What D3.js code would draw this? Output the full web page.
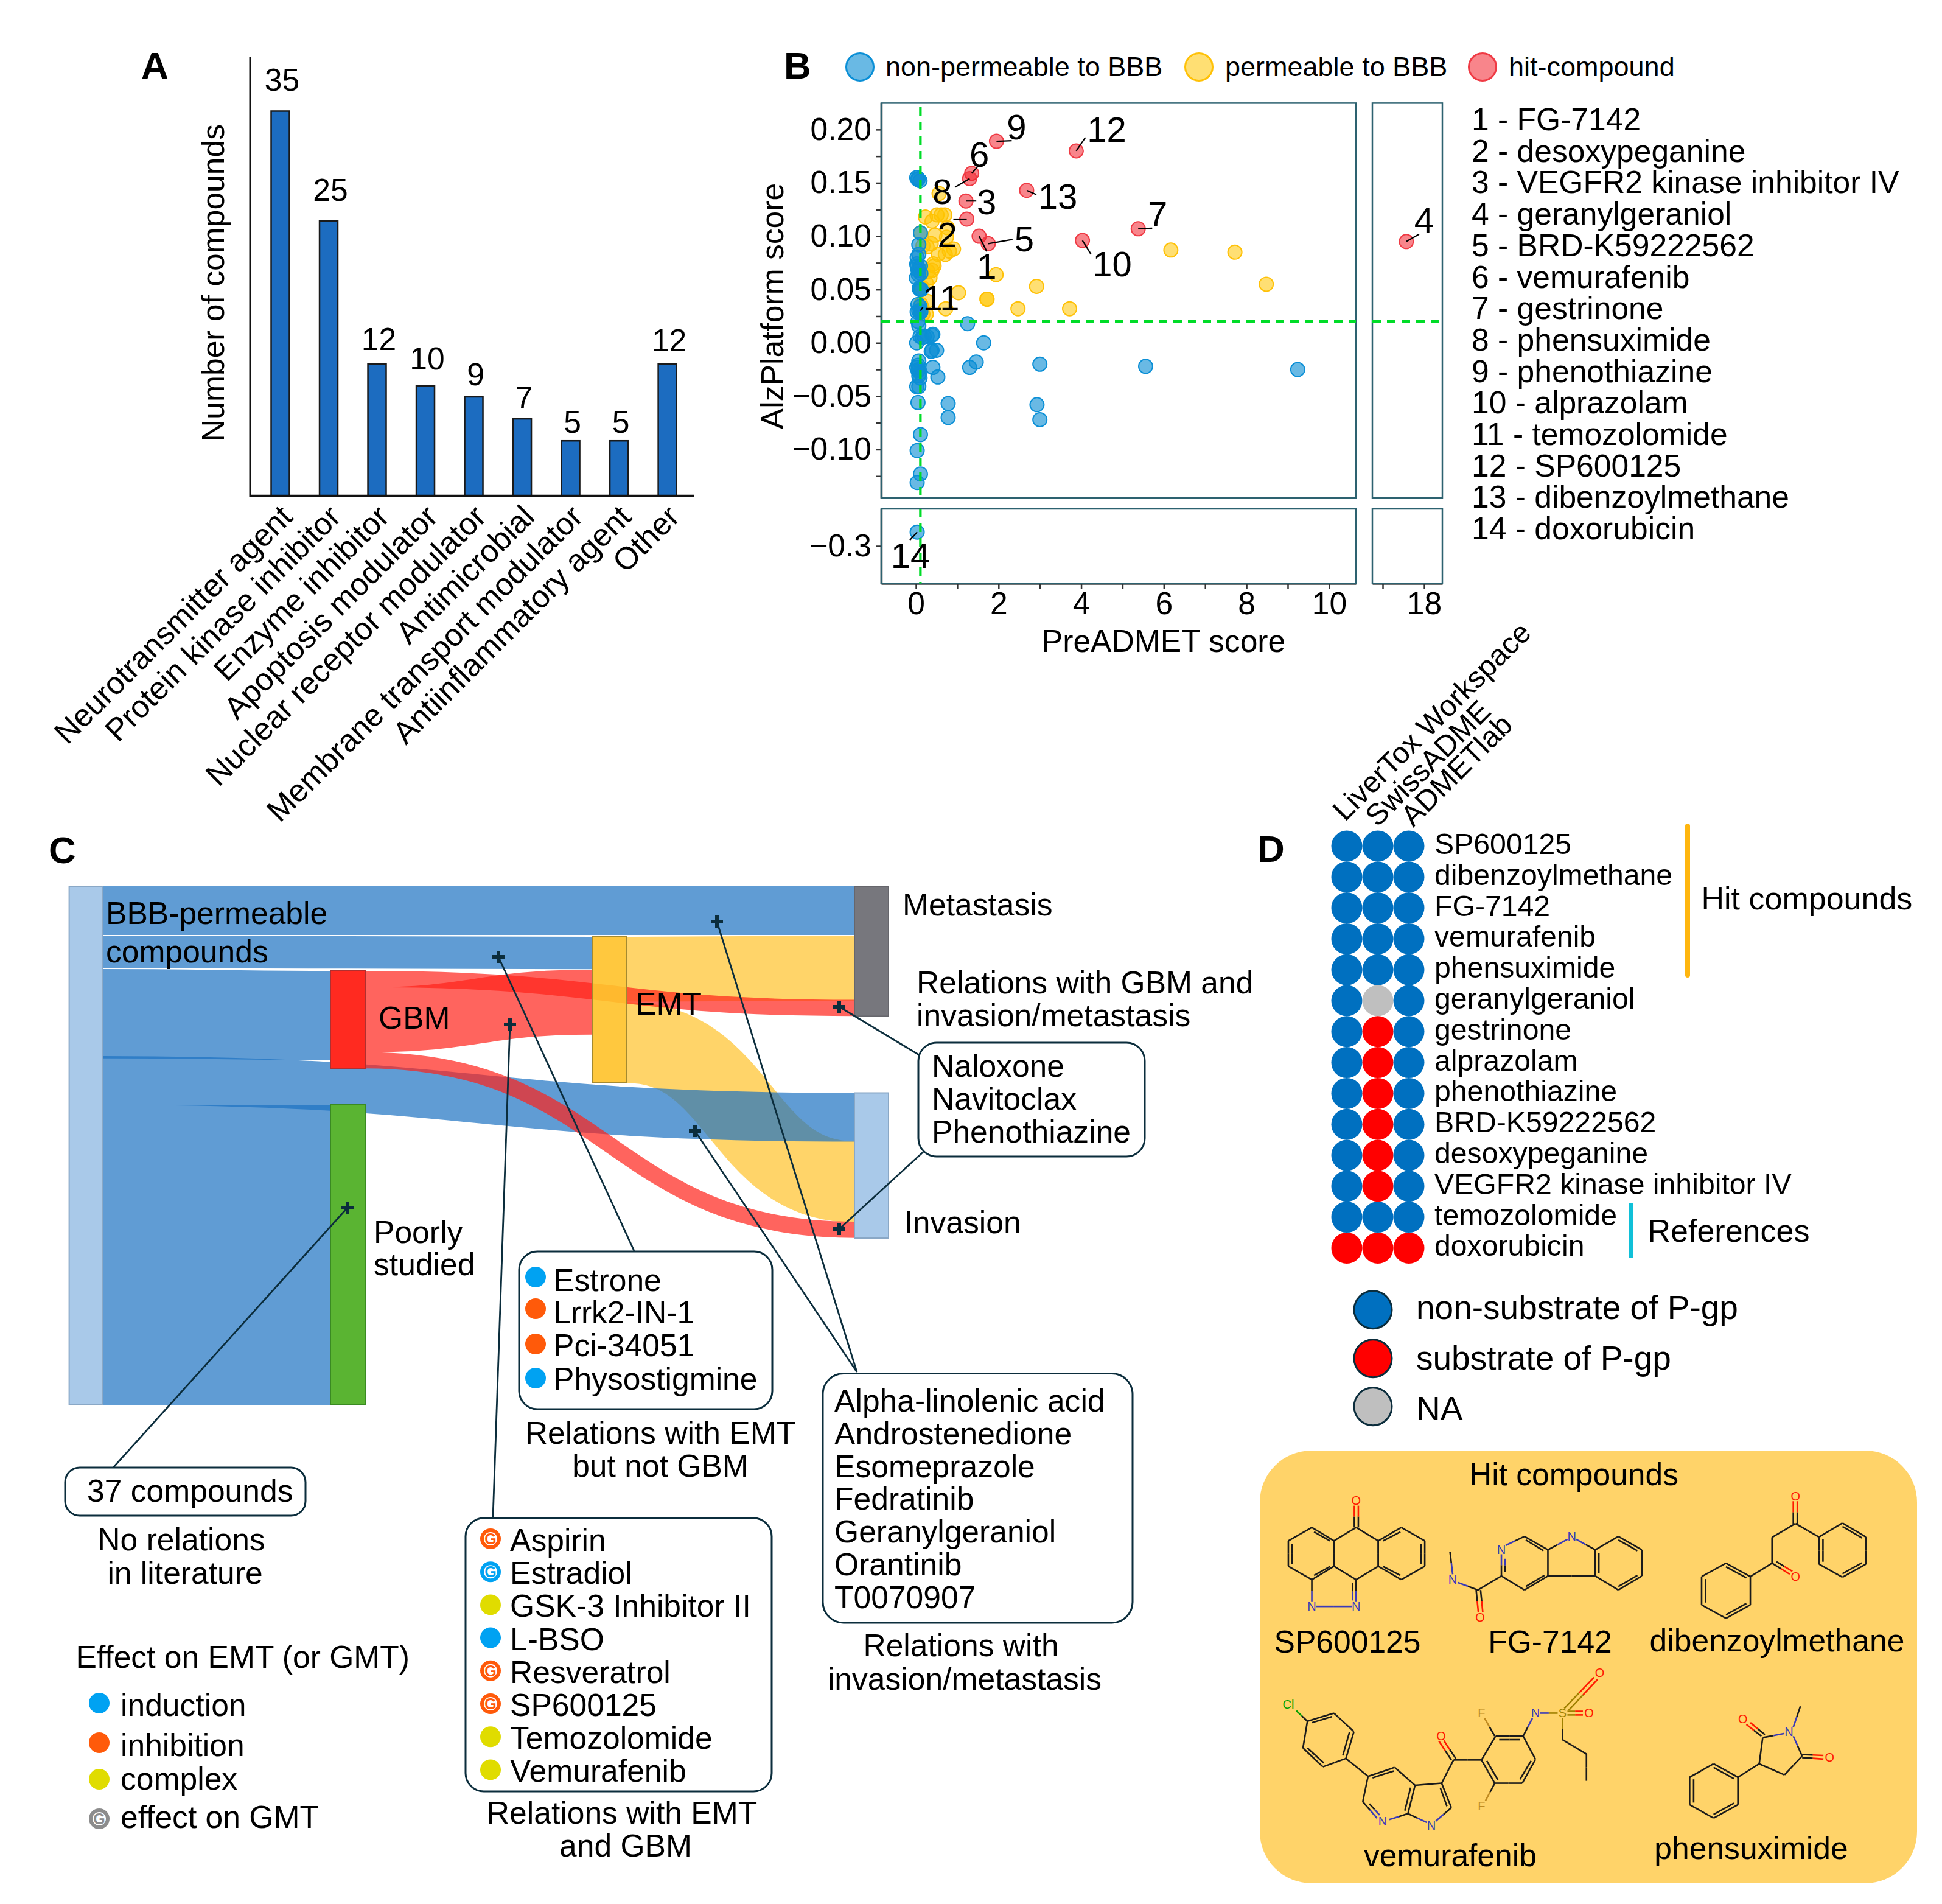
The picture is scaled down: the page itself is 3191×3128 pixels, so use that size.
<!DOCTYPE html>
<html><head><meta charset="utf-8">
<script src="https://cdn.jsdelivr.net/npm/d3@7"></script>
<style>html,body{margin:0;padding:0;background:#fff}svg{display:block}text{font-family:"Liberation Sans",Arial,sans-serif;fill:#000}</style>
</head><body><svg id="c" width="3191" height="3128" viewBox="0 0 3191 3128"></svg>
<script>
// ---------- Panel A data
const categories=["Neurotransmitter agent","Protein kinase inhibitor","Enzyme inhibitor","Apoptosis modulator","Nuclear receptor modulator","Antimicrobial","Membrane transport modulator","Antiinflammatory agent","Other"];
const compoundCounts=[35,25,12,10,9,7,5,5,12];
// ---------- Panel B data
const nonPermeable=[[.05,.154],[.02,.155],[.10,.152],[.05,.153],[.11,.103],[.07,.092],[.03,.080],[.07,.083],[.02,.074],[.03,.072],[.07,.070],[.11,.072],[.05,.068],[.06,.064],[.01,.061],[.12,.065],[.10,.050],[.08,.051],[.13,.050],[.05,.036],[.10,.034],[.03,.029],[.12,.029],[.07,.030],[.11,.030],[.05,.020],[.07,.016],[.02,0],[.10,.006],[.20,.006],[.27,.006],[.39,.007],[.41,.008],[.15,.005],[.50,-.007],[.37,-.008],[.39,-.007],[1.64,0],[1.25,.018],[1.46,-.018],[1.30,-.023],[.41,-.023],[.53,-.032],[.07,-.017],[.05,-.021],[.02,-.023],[.07,-.025],[.05,-.026],[.10,-.028],[.07,-.031],[.02,-.041],[.07,-.041],[.10,-.033],[.05,-.056],[.78,-.057],[.78,-.070],[2.93,-.058],[3.0,-.072],[3.0,-.020],[5.56,-.022],[9.24,-.025],[.11,-.086],[.03,-.101],[.11,-.123],[.03,-.131]];
const nonPermeableLow=[[.03,-.287]];
const permeable=[[.56,.140],[.23,.118],[.39,.114],[.51,.120],[.70,.120],[.61,.120],[.76,.108],[.46,.101],[.74,.099],[.11,.103],[.37,.093],[.17,.091],[.27,.090],[.91,.088],[.71,.083],[.54,.083],[.81,.086],[.44,.072],[.42,.074],[.39,.068],[.29,.067],[.34,.061],[.25,.056],[.15,.052],[.12,.050],[1.94,.064],[1.03,.047],[1.72,.041],[1.72,.041],[.72,.032],[2.47,.032],[2.92,.053],[3.72,.032],[6.17,.087],[7.72,.085],[8.48,.055],[.27,.039],[.12,.036],[.25,.027],[.15,.033],[.17,.027],[.11,.030]];
const hitIds=[1,2,3,5,6,7,8,9,10,12,13];
const hitX=[1.53,1.23,1.21,1.75,1.35,5.38,1.30,1.95,4.03,3.88,2.68];
const hitY=[.100,.116,.133,.093,.159,.107,.154,.189,.096,.180,.143];
const hitRight=[[4,17.57,.095]];
const reference11=[.11,.030];
const compoundIndex=["FG-7142","desoxypeganine","VEGFR2 kinase inhibitor IV","geranylgeraniol","BRD-K59222562","vemurafenib","gestrinone","phensuximide","phenothiazine","alprazolam","temozolomide","SP600125","dibenzoylmethane","doxorubicin"];
// ---------- Panel C data
const flowSource=["BBB","BBB","BBB","BBB","BBB","GBM","GBM","GBM","EMT","EMT"];
const flowTarget=["Metastasis","EMT","GBM","Invasion","Poorly","EMT","Metastasis","Invasion","Metastasis","Invasion"];
const flowValue=[6,4,11,6,37,8,2,2,8,10];
const effectLegend=[["induction","i"],["inhibition","h"],["complex","c"],["effect on GMT","g"]];
const emtOnly=[["Estrone","i"],["Lrrk2-IN-1","h"],["Pci-34051","h"],["Physostigmine","i"]];
const emtGbm=[["Aspirin","gh"],["Estradiol","gi"],["GSK-3 Inhibitor II","c"],["L-BSO","i"],["Resveratrol","gh"],["SP600125","gh"],["Temozolomide","c"],["Vemurafenib","c"]];
const gbmInvasion=["Naloxone","Navitoclax","Phenothiazine"];
const invasionOnly=["Alpha-linolenic acid","Androstenedione","Esomeprazole","Fedratinib","Geranylgeraniol","Orantinib","T0070907"];
// ---------- Panel D data
const tools=["LiverTox Workspace","SwissADME","ADMETlab"];
const dCompounds=["SP600125","dibenzoylmethane","FG-7142","vemurafenib","phensuximide","geranylgeraniol","gestrinone","alprazolam","phenothiazine","BRD-K59222562","desoxypeganine","VEGFR2 kinase inhibitor IV","temozolomide","doxorubicin"];
const liverTox=["n","n","n","n","n","n","n","n","n","n","n","n","n","s"];
const swissAdme=["n","n","n","n","n","x","s","s","s","s","s","s","n","s"];
const admetLab=["n","n","n","n","n","n","n","n","n","n","n","n","n","s"];

const FS=51.6;
const svg=d3.select("#c");
svg.append("rect").attr("width",3191).attr("height",3128).attr("fill","#fff");
function T(g,s,x,y,size,opt={}){const t=g.append("text").attr("x",x).attr("y",y).attr("font-size",size).text(s);
 if(opt.a)t.attr("text-anchor",opt.a);if(opt.b)t.attr("font-weight","bold");if(opt.r!=null)t.attr("transform",`rotate(${opt.r} ${x} ${y})`);if(opt.c)t.style("fill",opt.c);return t;}
// panel letters
[["A",232,129],["B",1288,129],["C",80,1418],["D",2066,1416]].forEach(d=>T(svg,d[0],d[1],d[2],62,{b:1}));

// ===== A
(function(){const g=svg.append("g");
 const x=d3.scaleBand().domain(categories).range([420.75,1136.35]).paddingInner(.623).paddingOuter(.3115);
 const y=d3.scaleLinear().domain([0,39.9]).range([814.5,94]);
 const labelGap=[33,33,23,27,19,17,13,13,21];
 g.selectAll("rect.b").data(compoundCounts).join("rect").attr("x",(d,i)=>x(categories[i])).attr("width",x.bandwidth()).attr("y",d=>y(d)).attr("height",d=>y(0)-y(d)).attr("fill","#1c6cc0").attr("stroke","#1a1a1a").attr("stroke-width",2.5);
 g.append("path").attr("d",`M${x.range()[0]-9.5},${y(39.9)}V${y(0)}H1140`).attr("fill","none").attr("stroke","#111").attr("stroke-width",3.5);
 compoundCounts.forEach((d,i)=>T(g,d,x(categories[i])+x.bandwidth()/2+3,y(d)-labelGap[i],FS,{a:"middle"}));
 categories.forEach((c,i)=>T(g,c,x(c)+x.bandwidth()/2+23,852,FS,{a:"end",r:-45}));
 T(g,"Number of compounds",368,465,FS,{a:"middle",r:-90});
})();

// ===== B
(function(){const g=svg.append("g");
 const xL=d3.scaleLinear().domain([-.84,10.65]).range([1448,2228]);
 const xR=d3.scaleLinear().domain([16.75,18.44]).range([2255,2370]);
 const yT=d3.scaleLinear().domain([-.1454,.2248]).range([818,169.4]);
 const yB=d3.scaleLinear().domain([-.3351,-.2652]).range([958.5,836]);
 const frame=(a,b,c,d)=>g.append("rect").attr("x",a).attr("y",c).attr("width",b-a).attr("height",d-c).attr("fill","none").attr("stroke","#2d6270").attr("stroke-width",2.5);
 const axisStyle=s=>{s.selectAll("text").attr("font-size",FS).style("font-family",'"Liberation Sans"');s.selectAll("line").attr("stroke","#333").attr("stroke-width",2.5);s.select(".domain").attr("stroke","#444").attr("stroke-width",3.5);};
 const lt=d3.range(-.125,.2001,.025).map(v=>+v.toFixed(3));
 g.append("g").attr("transform","translate(1448,0)").call(d3.axisLeft(yT).tickValues(lt).tickSize(9).tickPadding(7).tickSizeOuter(0).tickFormat(v=>Math.abs(Math.round(v*1000))%50===0?d3.format(".2f")(v):"")).call(axisStyle);
 g.append("g").attr("transform","translate(1448,0)").call(d3.axisLeft(yB).tickValues([-.3]).tickSize(9).tickPadding(7).tickSizeOuter(0).tickFormat(d3.format(".1f"))).call(axisStyle);
 g.append("g").attr("transform","translate(0,958.5)").call(d3.axisBottom(xL).tickValues(d3.range(0,11)).tickSize(9).tickPadding(5).tickSizeOuter(0).tickFormat(v=>v%2===0?v:"")).call(axisStyle);
 g.append("g").attr("transform","translate(0,958.5)").call(d3.axisBottom(xR).tickValues([17,18]).tickSize(9).tickPadding(5).tickSizeOuter(0).tickFormat(v=>v===18?v:"")).call(axisStyle);
 frame(1448,2228,169.4,818);frame(1448,2228,836,958.5);frame(2255,2370,169.4,818);frame(2255,2370,836,958.5);
 g.selectAll(".tick text").style("fill","#000");
 T(g,"PreADMET score",1912,1071,FS,{a:"middle"});
 T(g,"AlzPlatform score",1287,503,FS,{a:"middle",r:-90});
 const style={b:["#0d8ed4","#0b8fd6",.62],y:["#ffc400","#ffc107",.55],r:["#f3202c","#ef3a44",.55]};
 const dot=(pts,xs,ys,k)=>g.append("g").selectAll("circle").data(pts).join("circle").attr("cx",d=>xs(d[0])).attr("cy",d=>ys(d[1])).attr("r",11.5).attr("fill",style[k][0]).attr("fill-opacity",style[k][2]).attr("stroke",style[k][1]).attr("stroke-width",2);
 dot(permeable,xL,yT,"y");dot(nonPermeable,xL,yT,"b");dot(nonPermeableLow,xL,yB,"b");
 const hits=hitIds.map((id,i)=>[hitX[i],hitY[i],id]);
 dot(hits,xL,yT,"r");dot(hitRight.map(d=>[d[1],d[2]]),xR,yT,"r");
 // reference lines
 const grn=(a,b,c,d)=>g.append("line").attr("x1",a).attr("x2",b).attr("y1",c).attr("y2",d).attr("stroke","#00dc28").attr("stroke-width",4.2).attr("stroke-dasharray","14 10");
 grn(1448,2228,yT(.02),yT(.02));grn(2255,2370,yT(.02),yT(.02));grn(xL(.108),xL(.108),176,818);grn(xL(.108),xL(.108),836,958.5);
 // annotation offsets: id -> [label dx, baseline dy, leader dx, leader dy]
 const notes={1:[12.5,68,12.5,25],2:[-32,44,-22,0],3:[34,20,17,0],5:[59,11,40,-7],6:[12.5,-13,9,-10],7:[32,-6,23,-1],8:[-45,40,-24,14],9:[33,-5,25,-1],10:[49,57,14,22.5],11:[34,-3,4,-6],12:[50,-17,15,-22],13:[51,28,16,7],4:[29,-17,21,-12],14:[-11,57,-12,13]};
 const note=(id,px,py)=>{const n=notes[id];g.append("line").attr("x1",px).attr("y1",py).attr("x2",px+n[2]).attr("y2",py+n[3]).attr("stroke","#000").attr("stroke-width",2.2);T(g,id,px+n[0],py+n[1]+2,58,{a:"middle"});};
 hits.forEach(d=>note(d[2],xL(d[0]),yT(d[1])));
 note(11,xL(reference11[0]),yT(reference11[1]));
 note(4,xR(17.57),yT(.095));note(14,xL(.03),yB(-.287));
 // legend
 [[1413,"non-permeable to BBB","b",1455],[1970,"permeable to BBB","y",2013],[2436,"hit-compound","r",2479]].forEach(l=>{
  g.append("circle").attr("cx",l[0]).attr("cy",110).attr("r",22.5).attr("fill",style[l[2]][0]).attr("fill-opacity",style[l[2]][2]).attr("stroke",style[l[2]][1]).attr("stroke-width",3);
  T(g,l[1],l[3],125,45);});
 compoundIndex.forEach((c,i)=>T(g,(i+1)+" - "+c,2418,214+i*51.7,FS));
})();

// ===== C
(function(){const g=svg.append("g");
 const nodes={BBB:[113.6,169,1456,2307,"#a9c9e9","#8aa8c6",1],GBM:[543,600,1595,1756,"#ff2a20","#b03030",1],Poorly:[543,600,1815,2307,"#5ab432","#3a8a22",1],EMT:[973,1030,1539,1779,"#ffc229","#a58a30",.9],Metastasis:[1404,1460,1456,1669.5,"#77777d","#66666c",1],Invasion:[1404,1460,1795.5,2034,"#a9c9e9","#8aa8c6",1]};
 const u=d3.scaleLinear().domain([0,1]).range([0,13.33]);
 // top edge of each band at its source and at its target
 const layout=[[1456,1456],[1537,1539],[1592,1595],[1735,1795.5],[1815,1815],[1622,1593],[1595,1642.5],[1728.5,2007],[1539,1537],[1646,1875]];
 const col={BBB:"#1d72c2",GBM:"#ff221a",EMT:"#ffc229"};
 const lk=d3.linkHorizontal().x(d=>d.x).y(d=>d.y);
 const flows=flowValue.map((v,i)=>({v,s:flowSource[i],t:flowTarget[i],sy:layout[i][0],ty:layout[i][1]}));
 ["EMT","BBB","GBM"].forEach(src=>{
  g.append("g").selectAll("path").data(flows.filter(f=>f.s===src)).join("path").attr("fill","none").attr("stroke",col[src]).attr("stroke-opacity",.7).attr("stroke-width",d=>u(d.v))
   .attr("d",d=>lk({source:{x:nodes[d.s][1],y:d.sy+u(d.v)/2},target:{x:nodes[d.t][0],y:d.ty+u(d.v)/2}}));
 });
 Object.values(nodes).forEach(n=>g.append("rect").attr("x",n[0]).attr("y",n[2]).attr("width",n[1]-n[0]).attr("height",n[3]-n[2]).attr("fill",n[4]).attr("fill-opacity",n[6]).attr("stroke",n[5]).attr("stroke-width",2));
 const dark="#0b2d3c";
 const leaders=[[186,2411,571,1984],[1042,2055,819,1572],[810,2493,838,1683],[1510,1733,1379,1654],[1517,1892.5,1379,2019],[1408,2254,1178,1514],[1408,2254,1142,1858]];
 leaders.forEach(l=>g.append("line").attr("x1",l[0]).attr("y1",l[1]).attr("x2",l[2]).attr("y2",l[3]).attr("stroke",dark).attr("stroke-width",2.8));
 leaders.forEach(l=>g.append("path").attr("d",`M${l[2]-10},${l[3]}H${l[2]+10}M${l[2]},${l[3]-10}V${l[3]+10}`).attr("stroke",dark).attr("stroke-width",6).attr("fill","none"));
 const box=(a,b,c,d,r=30)=>g.append("rect").attr("x",a).attr("y",c).attr("width",b-a).attr("height",d-c).attr("rx",r).attr("fill","#fff").attr("stroke",dark).attr("stroke-width",3);
 box(107,502,2411,2490,24);box(853,1269,2056,2315);box(765,1268,2494,2943);box(1509,1881,1713,1900);box(1352,1861,2256.5,2666,34);
 const effect={i:"#00a2f2",h:"#ff5a0a",c:"#e0dc00"};
 const marker=(k,cx,cy)=>{
  if(k[0]==="g"){const c=k==="g"?"#8c8c8c":effect[k[1]];
   g.append("circle").attr("cx",cx).attr("cy",cy).attr("r",14).attr("fill","#fff").attr("stroke",c).attr("stroke-width",6);
   T(g,"G",cx,cy+9,25,{a:"middle",b:1,c});}
  else g.append("circle").attr("cx",cx).attr("cy",cy).attr("r",17).attr("fill",effect[k]);};
 // labels
 T(g,"BBB-permeable",174,1518,FS);T(g,"compounds",174,1581,FS);
 T(g,"GBM",622,1690,FS);T(g,"EMT",1044,1667,FS);T(g,"Metastasis",1483,1503.6,FS);T(g,"Invasion",1485.5,2026,FS);
 T(g,"Poorly",614,2042,FS);T(g,"studied",614,2095,FS);
 T(g,"Relations with GBM and",1506,1632,FS);T(g,"invasion/metastasis",1506,1686,FS);
 T(g,"37 compounds",143,2466.5,FS);
 T(g,"No relations",298,2547,FS,{a:"middle"});T(g,"in literature",304,2602,FS,{a:"middle"});
 T(g,"Relations with EMT",1085,2372,FS,{a:"middle"});T(g,"but not GBM",1085,2426,FS,{a:"middle"});
 T(g,"Relations with EMT",1022,2996,FS,{a:"middle"});T(g,"and GBM",1028,3050,FS,{a:"middle"});
 T(g,"Relations with",1579,2721,FS,{a:"middle"});T(g,"invasion/metastasis",1585,2776,FS,{a:"middle"});
 const y1=[2098,2150,2208,2264],b1=[2121,2174,2227.5,2283];
 emtOnly.forEach((d,i)=>{marker(d[1],880,y1[i]);T(g,d[0],909,b1[i],FS);});
 emtGbm.forEach((d,i)=>{marker(d[1],806,2528+i*54.2);T(g,d[0],838,2548+i*54.2,FS);});
 gbmInvasion.forEach((d,i)=>T(g,d,1531,1769+i*54,FS));
 invasionOnly.forEach((d,i)=>T(g,d,1371,2319+i*53.8,FS));
 T(g,"Effect on EMT (or GMT)",124.5,2740,FS);
 const ly=[2798,2863,2923,2988],lb=[2819,2885,2940,3003];
 effectLegend.forEach((d,i)=>{marker(d[1],163,ly[i]);T(g,d[0],198,lb[i],FS);});
})();

// ===== D
(function(){const g=svg.append("g");
 const x=d3.scalePoint().domain(tools).range([2213,2315]);
 const y=d3.scalePoint().domain(dCompounds).range([1390,2050.4]);
 const fill={n:"#0070c0",s:"#ff0000",x:"#bfbfbf"};
 [liverTox,swissAdme,admetLab].forEach((col,j)=>g.append("g").selectAll("circle").data(col).join("circle").attr("cx",x(tools[j])).attr("cy",(d,i)=>y(dCompounds[i])).attr("r",25.5).attr("fill",d=>fill[d]));
 dCompounds.forEach(c=>T(g,c,2357,y(c)+13,48.2));
 [[2210,1351],[2263.5,1360],[2322,1360]].forEach((p,i)=>T(g,tools[i],p[0],p[1],48.6,{r:-45}));
 const bar=(px,a,b,c)=>g.append("rect").attr("x",px-4).attr("y",a).attr("width",8).attr("height",b-a).attr("rx",4).attr("fill",c);
 bar(2773,1353,1606,"#ffb60f");bar(2680,1976,2067,"#10c0d8");
 T(g,"Hit compounds",2795.5,1494,52);T(g,"References",2707.5,2040,52);
 [["non-substrate of P-gp","n",2151.7,2166.7],["substrate of P-gp","s",2231.7,2250],["NA","x",2310.7,2333]].forEach(l=>{
  g.append("circle").attr("cx",2256).attr("cy",l[2]).attr("r",31).attr("fill",fill[l[1]]).attr("stroke","#0b2d3c").attr("stroke-width",3);
  T(g,l[0],2327,l[3],55);});
 // hit compounds card
 g.append("rect").attr("x",2070).attr("y",2383).attr("width",1080).attr("height",711).attr("rx",85).attr("fill","#ffd369");
 T(g,"Hit compounds",2586,2440,FS,{a:"middle"});
 [["SP600125",2214,2715],["FG-7142",2547,2715],["dibenzoylmethane",2920,2713],["vemurafenib",2383,3066],["phensuximide",2877.5,3054]].forEach(d=>T(g,d[0],d[1],d[2],FS,{a:"middle"}));
 const mx=d3.scaleLinear().domain([0,1141*1.374]).range([2050,3191]);
 const my=d3.scaleLinear().domain([0,768*2.042]).range([2360,3128]);
 const K="#1a1a1a",R="#ff1a00",B="#3a3ab8",O="#a08000",F="#c08a20",G="#00a000";
 const ring=p=>p.map((a,i)=>[a[0],a[1],p[(i+1)%p.length][0],p[(i+1)%p.length][1]]);
 const bonds=[
  // SP600125
  ...ring([[145,305],[195,350],[195,435],[145,480],[92,435],[92,350]]),...ring([[245,305],[295,350],[295,435],[245,480],[195,435],[195,350]]),...ring([[347,305],[400,350],[400,435],[347,480],[295,435],[295,350]]),
  [100,360,100,428],[150,320,186,350],[150,466,186,436],[392,360,392,428],[345,320,306,350],[345,466,306,436],
  [241,305,241,232,K,R],[250,305,250,232,K,R],[145,480,145,555,K,B],[245,480,245,555,K,B],[237,490,237,550,K,B],[155,570,235,570,B,B],
  // FG-7142
  [583,365,625,335,B,K],[625,335,678,380],[678,380,678,468],[678,468,625,515],[625,515,573,468],[573,468,573,395,K,B],[581,410,581,455,B,K],[628,347,668,383],[628,503,670,466],
  [678,380,722,345,K,B],[742,345,785,380,B,K],[785,380,785,468],[785,468,678,468],
  ...ring([[785,380],[837,335],[890,380],[890,468],[837,515],[785,468]]),[793,390,793,458],[837,347,880,383],[837,503,880,466],
  [573,468,520,515],[516,515,521,590,K,R],[526,515,531,590,K,R],[520,515,475,490,K,B],[463,462,457,387,B,K],
  // dibenzoylmethane
  [1232,217,1232,292,R,K],[1241,217,1241,292,R,K],[1237,292,1184,338],[1184,338,1184,425],[1184,425,1135,470],[1184,425,1224,462,K,R],[1194,420,1230,452,K,R],[1237,292,1290,337],
  ...ring([[1290,337],[1343,290],[1396,337],[1396,428],[1343,472],[1290,428]]),[1299,345,1299,420],[1343,302,1387,340],[1343,460,1387,424],
  ...ring([[1135,470],[1080,425],[1025,470],[1025,565],[1080,610],[1135,565]]),[1034,478,1034,557],[1080,437,1126,474],[1080,598,1126,560],
  // vemurafenib
  [110,920,135,955,G,K],...ring([[135,955],[195,928],[240,990],[222,1080],[170,1108],[125,1045]]),[145,960,190,940],[230,992,215,1070],[135,1045,172,1095],
  [222,1080,272,1140],[272,1140,332,1110],[332,1110,378,1170],[378,1170,362,1265],[362,1265,320,1285,K,B],[292,1280,260,1225,B,K],[260,1225,272,1140],[282,1145,330,1122],[368,1178,355,1255],[275,1232,298,1270,K,B],
  [378,1170,438,1163],[438,1163,460,1245],[460,1245,425,1290,K,B],[405,1295,362,1265,B,K],[435,1178,450,1240],
  [438,1163,465,1085],[465,1085,528,1085],[460,1085,432,1022,K,R],[470,1080,443,1020,K,R],
  ...ring([[528,1085],[560,1005],[622,1005],[650,1083],[620,1163],[558,1163]]),[568,1017,615,1017],[640,1088,615,1150],[540,1088,565,1152],
  [558,1005,535,945,K,F],[558,1163,537,1222,K,F],[622,1005,643,945,K,B],[660,928,700,928,B,O],[715,912,782,808,O,R],[725,918,790,815,O,R],[722,922,757,922,O,R],[722,934,757,934,O,R],[711,945,711,1017,O,K],[711,1017,765,1065],[765,1065,765,1155],
  // phensuximide
  [1163,1010,1212,996,K,B],[1232,1005,1252,1072,B,K],[1252,1072,1212,1135],[1212,1135,1155,1098],[1155,1098,1163,1010],[1160,1005,1126,966,K,R],[1168,1000,1135,960,K,R],[1252,1067,1300,1070,K,R],[1252,1077,1300,1082,K,R],[1232,975,1248,905,B,K],[1155,1098,1107,1143],
  ...ring([[1107,1143],[1052,1098],[998,1143],[998,1235],[1052,1280],[1107,1235]]),[1007,1150,1007,1228],[1052,1110,1098,1148],[1052,1268,1098,1230]
 ];
 const m=g.append("g").attr("stroke-width",2.6).attr("fill","none");
 bonds.forEach(b=>{const c1=b[4]||K,c2=b[5]||K,a=[mx(b[0]),my(b[1])],e=[mx(b[2]),my(b[3])],h=[(a[0]+e[0])/2,(a[1]+e[1])/2];
  m.append("line").attr("x1",a[0]).attr("y1",a[1]).attr("x2",h[0]).attr("y2",h[1]).attr("stroke",c1);
  m.append("line").attr("x1",h[0]).attr("y1",h[1]).attr("x2",e[0]).attr("y2",e[1]).attr("stroke",c2);});
 const atoms=[["O",245,215,R],["N",145,570,B],["N",245,570,B],["N",573,380,B],["N",732,335,B],["N",463,480,B],["O",525,607,R],["O",1237,200,R],["O",1237,470,R],["Cl",92,898,G],["N",305,1290,B],["N",415,1305,B],["O",437,1005,R],["F",528,928,F],["F",528,1240,F],["N",650,928,B],["S",711,928,O],["O",795,792,R],["O",771,928,R],["O",1118,948,R],["O",1314,1077,R],["N",1222,990,B]];
 atoms.forEach(a=>T(g,a[0],mx(a[1]),my(a[2])+7,20,{a:"middle",c:a[3]}));
})();
</script></body></html>
